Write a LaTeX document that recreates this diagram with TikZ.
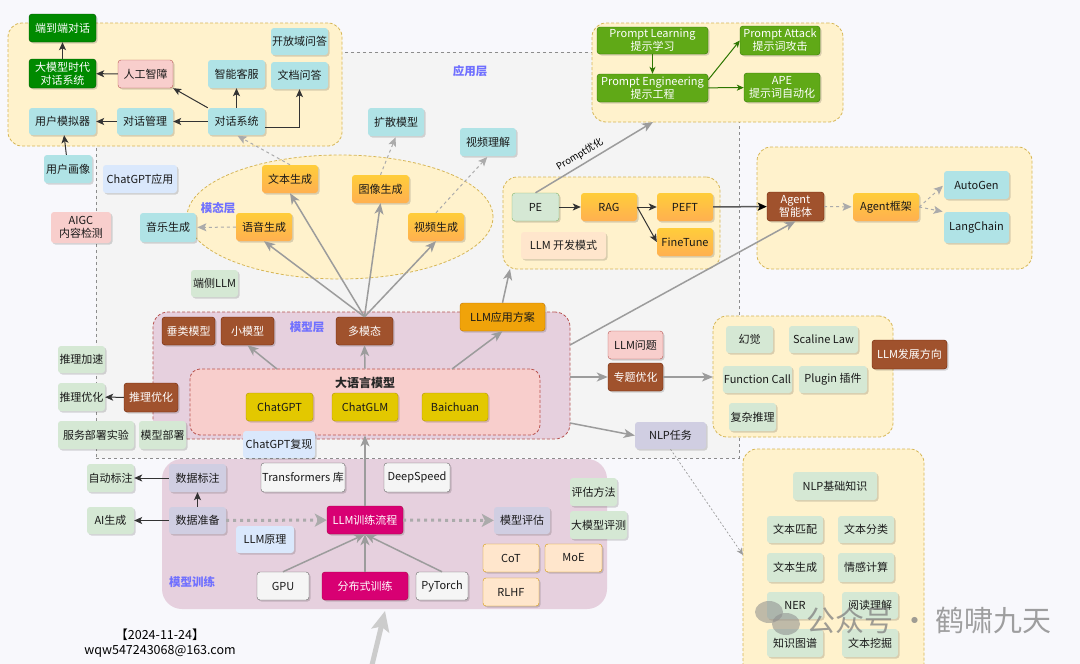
\documentclass[tikz,border=0pt]{standalone}
\usepackage{fontspec}
\setmainfont{Noto Sans CJK SC}
\usetikzlibrary{arrows.meta,shapes.geometric,shadows}
\definecolor{bg}{HTML}{F8F8FC}
\definecolor{appbg}{HTML}{F4F4F4}
\definecolor{ylw}{HTML}{FFF2CC}
\definecolor{ylwd}{HTML}{D6B656}
\definecolor{cyn}{HTML}{B0E3E6}
\definecolor{lgr}{HTML}{D5E8D4}
\definecolor{lgrd}{HTML}{82B366}
\definecolor{pnk}{HTML}{F8CECC}
\definecolor{pnkd}{HTML}{B85450}
\definecolor{brn}{HTML}{A0522D}
\definecolor{brnd}{HTML}{6D1F00}
\definecolor{dgr}{HTML}{008A00}
\definecolor{dgrd}{HTML}{005700}
\definecolor{pgr}{HTML}{60A917}
\definecolor{pgrd}{HTML}{2D7600}
\definecolor{orgt}{HTML}{FFCD3A}
\definecolor{orgb}{HTML}{FFB050}
\definecolor{gold}{HTML}{E3C800}
\definecolor{goldd}{HTML}{B09500}
\definecolor{lav}{HTML}{D0CEE2}
\definecolor{lblu}{HTML}{DAE8FC}
\definecolor{pch}{HTML}{FFE6CC}
\definecolor{pchd}{HTML}{D79B00}
\definecolor{wht}{HTML}{F5F5F5}
\definecolor{whtd}{HTML}{666666}
\definecolor{mag}{HTML}{D80073}
\definecolor{magd}{HTML}{A50040}
\definecolor{amb}{HTML}{F0A30A}
\definecolor{ambd}{HTML}{BD7000}
\definecolor{mlay}{HTML}{E6D0DE}
\definecolor{lbl}{HTML}{7070FF}
\definecolor{arr}{HTML}{9C9C9C}
\definecolor{dk}{HTML}{333333}
\newcommand\bx[7]{\node[#1, minimum width={(#5)-(#3)}, minimum height={(#6)-(#4)}] (#2) at ({((#3)+(#5))/2},{((#4)+(#6))/2}) {#7};}
\tikzset{
 nd/.style={rounded corners=3pt, align=center, inner sep=1pt, font=\fontsize{11}{13}\selectfont, text=black!90,
   drop shadow={shadow xshift=1.5pt, shadow yshift=-1.5pt, fill=black, opacity=0.15}},
 cy/.style={nd, fill=cyn},
 lg/.style={nd, fill=lgr},
 lgb/.style={nd, fill=lgr, draw=lgrd},
 pk/.style={nd, fill=pnk, draw=pnkd},
 pkn/.style={nd, fill=pnk},
 br/.style={nd, fill=brn, draw=brnd, text=white},
 dg/.style={nd, fill=dgr, draw=dgrd, text=white},
 pg/.style={nd, fill=pgr, draw=pgrd, text=white},
 og/.style={nd, top color=orgt, bottom color=orgb},
 gd/.style={nd, fill=gold, draw=goldd},
 lv/.style={nd, fill=lav},
 lb/.style={nd, fill=lblu},
 pc/.style={nd, fill=pch},
 pcd/.style={nd, fill=pch, draw=pchd},
 wh/.style={nd, fill=wht, draw=whtd},
 mg/.style={nd, fill=mag, draw=magd, text=white},
 am/.style={nd, fill=amb, draw=ambd},
 grp/.style={rounded corners=14pt, fill=ylw, draw=ylwd, dash pattern=on 3pt off 2pt, line width=0.8pt},
 lab/.style={text=lbl, font=\bfseries\fontsize{11.5}{13}\selectfont},
 bk/.style={draw=dk, line width=1pt, -{Stealth[length=8pt,width=7pt,inset=2pt]}},
 dkl/.style={draw=black!65, line width=1.5pt, -{Stealth[length=9pt,width=8pt,inset=2pt,color=black]}},
 gr/.style={draw=pgrd, line width=1pt, -{Stealth[length=7pt,width=6pt,inset=2pt]}},
 ga/.style={draw=arr, line width=1.5pt, -{Stealth[length=11pt,width=9pt,inset=3pt]}},
 gdsh/.style={draw=arr!85, line width=1pt, dash pattern=on 3pt off 3pt, -{Stealth[length=9pt,width=8pt,inset=2pt,sep]}},
 gdt/.style={draw=arr, line width=0.7pt, dash pattern=on 2pt off 2pt, -{Stealth[length=7pt,width=6pt,inset=2pt]}},
 gdot/.style={draw=arr!85, line width=3pt, dash pattern=on 3pt off 4pt, -{Stealth[length=12pt,width=13pt,inset=3pt]}},
 big/.style={draw=black!20, line width=5pt, -{Stealth[length=20pt,width=18pt,inset=4pt]}}
}
\begin{document}
\begin{tikzpicture}[x=1pt,y=-1pt]
\useasboundingbox (0,0) rectangle (1080,664);
\clip (0,0) rectangle (1080,664);
\fill[bg] (0,0) rectangle (1080,664);
% regions
\bx{fill=appbg, draw=black!45, dash pattern=on 3pt off 3pt, line width=0.8pt}{applayer}{96}{52}{739}{458}{}
\bx{grp}{g1}{8}{23}{342}{146}{}
\bx{grp}{g2}{592}{23}{843}{122}{}
\bx{grp}{g3}{503}{177}{720}{269}{}
\bx{grp}{g4}{757}{147}{1032}{269}{}
\bx{grp}{g5}{713}{316}{893}{437}{}
\bx{grp}{g6}{743}{449}{924}{700}{}
\node[ellipse, fill=ylw, draw=ylwd, dash pattern=on 3pt off 2pt, line width=0.8pt, minimum width=306, minimum height=124] (ell) at (340,217) {};
\bx{rounded corners=15pt, fill=mlay, draw=pnkd, dash pattern=on 3pt off 2pt, line width=0.8pt}{mlayer}{153}{312}{570}{439}{}
\bx{rounded corners=10pt, fill=pnk, draw=pnkd, dash pattern=on 3pt off 2pt, line width=0.8pt}{dyy}{190}{369}{540}{435}{}
\bx{rounded corners=20pt, fill=mlay}{train}{162}{459}{607}{609}{}
% labels
\node[lab] (l1) at (470,71) {应用层};
\node[lab] (l2) at (218,208) {模态层};
\node[lab] (l3) at (307,327) {模型层};
\node[lab] (l4) at (192,582) {模型训练};
\node[font=\bfseries\fontsize{12}{14}\selectfont, text=black!85] (l5) at (365,383) {大语言模型};
% top-left
\bx{dg}{e2e}{29}{14}{96}{42}{端到端对话}
\bx{dg}{dmx}{29}{59}{96}{88}{大模型时代\\对话系统}
\bx{pk}{rgzz}{118}{60}{173}{88}{人工智障}
\bx{cy}{yhmn}{29}{108}{96}{135}{用户模拟器}
\bx{cy}{dhgl}{117}{108}{173}{135}{对话管理}
\bx{cy}{dhxt}{208}{108}{265}{135}{对话系统}
\bx{cy}{znkf}{208}{60}{265}{88}{智能客服}
\bx{cy}{kfy}{271}{28}{328}{55}{开放域问答}
\bx{cy}{wdwd}{271}{62}{328}{89}{文档问答}
\bx{cy}{yhhx}{44}{155}{92}{183}{用户画像}
\bx{lb}{gptyy}{103}{165}{177}{193}{ChatGPT应用}
% modal layer
\bx{og}{wbsc}{262}{165}{318}{193}{文本生成}
\bx{og}{txsc}{352}{175}{409}{203}{图像生成}
\bx{og}{yysc}{236}{213}{292}{241}{语音生成}
\bx{og}{spsc}{408}{213}{464}{241}{视频生成}
\bx{cy}{yysc2}{140}{213}{196}{242}{音乐生成}
\bx{cy}{ksmx}{368}{108}{424}{136}{扩散模型}
\bx{cy}{spjl}{460}{128}{516}{156}{视频理解}
\bx{pkn}{aigc}{51}{212}{111}{243}{AIGC\\内容检测}
\bx{lg}{dcllm}{191}{270}{238}{297}{端侧LLM}
% model layer
\bx{br}{clmx}{162}{317}{215}{345}{垂类模型}
\bx{br}{xmx}{221}{317}{274}{345}{小模型}
\bx{br}{dmt}{336}{317}{393}{345}{多模态}
\bx{am}{yyfa}{460}{303}{545}{331}{LLM应用方案}
\bx{gd}{cgpt}{246}{393}{313}{421}{ChatGPT}
\bx{gd}{cglm}{332}{393}{398}{421}{ChatGLM}
\bx{gd}{bc}{422}{393}{488}{421}{Baichuan}
\bx{lb}{gptfx}{243}{431}{315}{458}{ChatGPT复现}
% dev mode
\bx{lgb}{pe}{512}{193}{559}{221}{PE}
\bx{og}{rag}{581}{193}{637}{221}{RAG}
\bx{og}{peft}{657}{193}{713}{221}{PEFT}
\bx{og}{ft}{657}{228}{713}{256}{FineTune}
\bx{pc}{kfms}{521}{232}{606}{259}{LLM 开发模式}
% prompt
\bx{pg}{pl}{597}{27}{708}{54}{Prompt Learning\\提示学习}
\bx{pg}{pen}{597}{74}{708}{102}{Prompt Engineering\\提示工程}
\bx{pg}{pa}{740}{26}{820}{55}{Prompt Attack\\提示词攻击}
\bx{pg}{ape}{744}{73}{820}{102}{APE\\提示词自动化}
% agent
\bx{br}{agent}{767}{192}{824}{221}{Agent\\智能体}
\bx{og}{agfw}{853}{193}{919}{221}{Agent框架}
\bx{cy}{autogen}{944}{171}{1009}{199}{AutoGen}
\bx{cy}{langchain}{944}{212}{1009}{243}{LangChain}
% issues
\bx{pk}{llmwt}{608}{331}{663}{359}{LLM问题}
\bx{br}{ztyh}{608}{363}{663}{391}{专题优化}
\bx{lv}{nlprw}{635}{422}{706}{449}{NLP任务}
\bx{lg}{hj}{726}{326}{773}{353}{幻觉}
\bx{lg}{scl}{789}{326}{858}{353}{Scaline Law}
\bx{lg}{fc}{723}{366}{792}{393}{Function Call}
\bx{lg}{plg}{799}{366}{867}{393}{Plugin 插件}
\bx{lg}{fztl}{729}{403}{776}{431}{复杂推理}
\bx{br}{fzfx}{872}{340}{947}{369}{LLM发展方向}
% nlp
\bx{lg}{nlpjc}{793}{472}{877}{500}{NLP基础知识}
\bx{lg}{wbpp}{767}{516}{823}{543}{文本匹配}
\bx{lg}{wbfl}{838}{516}{894}{543}{文本分类}
\bx{lg}{wbsc2}{767}{553}{823}{582}{文本生成}
\bx{lg}{qgjs}{838}{553}{894}{582}{情感计算}
\bx{lg}{ner}{767}{592}{823}{619}{NER}
\bx{lg}{ydlj}{842}{592}{898}{619}{阅读理解}
\bx{lg}{zstp}{767}{629}{823}{657}{知识图谱}
\bx{lg}{wbwj}{842}{629}{898}{657}{文本挖掘}
% inference
\bx{lg}{tljs}{58}{346}{105}{373}{推理加速}
\bx{lg}{tlyh}{58}{383}{105}{411}{推理优化}
\bx{br}{tlyh2}{124}{383}{178}{412}{推理优化}
\bx{lg}{fwbs}{58}{421}{134}{449}{服务部署实验}
\bx{lg}{mxbs}{139}{421}{186}{449}{模型部署}
% training
\bx{lv}{sjbz}{169}{464}{226}{492}{数据标注}
\bx{lv}{sjzb}{169}{507}{226}{534}{数据准备}
\bx{lg}{zdbz}{87}{464}{134}{492}{自动标注}
\bx{lg}{aisc}{87}{507}{134}{534}{AI生成}
\bx{lb}{llmyl}{236}{526}{294}{553}{LLM原理}
\bx{wh}{tfk}{261}{463}{345}{492}{Transformers 库}
\bx{wh}{ds}{384}{463}{450}{492}{DeepSpeed}
\bx{mg}{xllc}{327}{506}{403}{534}{LLM训练流程}
\bx{lv}{mxpg}{494}{507}{550}{534}{模型评估}
\bx{lg}{pgff}{570}{478}{617}{506}{评估方法}
\bx{lg}{dmxpc}{570}{511}{627}{539}{大模型评测}
\bx{pcd}{cot}{483}{544}{539}{572}{CoT}
\bx{pcd}{moe}{545}{544}{602}{572}{MoE}
\bx{pcd}{rlhf}{483}{578}{539}{606}{RLHF}
\bx{wh}{gpu}{257}{572}{309}{600}{GPU}
\bx{mg}{fbs}{322}{572}{408}{600}{分布式训练}
\bx{wh}{pyt}{416}{572}{468}{600}{PyTorch}
% texts
\node[font=\fontsize{12.5}{14}\selectfont] (date) at (160,635) {【2024-11-24】};
\node[font=\fontsize{12.5}{14}\selectfont] (mail) at (160,651) {wqw547243068@163.com};
\node[font=\fontsize{13}{15}\selectfont] (t1) at (447,673) {NLP模型};
\node[font=\fontsize{13}{15}\selectfont] (t2) at (701,673) {深度学习};
\node[font=\fontsize{13}{15}\selectfont] (t3) at (995,673) {行业知识};
% coordinates
\coordinate (c1) at (277,369);
\coordinate (c2) at (452,369);
\coordinate (c3) at (510,269);
\coordinate (c4) at (653,122);
\coordinate (c5) at (570,345);
\coordinate (c6) at (570,377);
\coordinate (c7) at (713,377);
\coordinate (c8) at (570,423);
\coordinate (c9) at (743,555);
\coordinate (b1) at (366,690);
\coordinate (b2) at (385,611);
% edges top-left
\draw[bk] (dmx) -- (e2e);
\draw[bk] (rgzz) -- (dmx);
\draw[bk] (dhgl) -- (yhmn);
\draw[bk] (dhxt) -- (dhgl);
\draw[bk] (dhxt.north west) -- (rgzz.south east);
\draw[bk] (dhxt) -- (znkf);
\draw[bk] ([yshift=-6pt]dhxt.east) -| (wdwd.south);
\draw[bk] (yhhx) -- (yhmn);
% dashed
\draw[gdsh] (wbsc.north) -- (dhxt.south);
\draw[gdsh] (txsc.north) -- (ksmx.south);
\draw[gdsh] (spsc.north) -- (spjl.south);
\draw[gdsh] (yysc) -- (yysc2);
% multimodal
\draw[ga] (dmt.north) -- (yysc.south);
\draw[ga] (dmt.north) -- (wbsc.south);
\draw[ga] (dmt.north) -- (txsc.south);
\draw[ga] (dmt.north) -- (spsc.south);
\draw[ga] (c1) -- (xmx.south);
\draw[ga] (dyy.north) -- (dmt.south);
\draw[ga] (c2) -- (yyfa.south);
\draw[ga] (yyfa.north) -- (c3);
% dev
\draw[bk] (pe) -- (rag);
\draw[bk] (rag) -- (peft);
\draw[bk] (rag.east) -- (ft.west);
\draw[dkl] (peft) -- (agent);
\draw[ga] (pe.north) -- node[pos=0.42, sloped, above=3pt, inner sep=1pt, font=\fontsize{9.5}{11}\selectfont] (lbp) {Prompt优化} (c4);
\draw[gr] (pl) -- (pen);
\draw[gr] ([yshift=-6pt]pen.north east) -- (pa.west);
\draw[gr] (pen) -- (ape);
\draw[gdsh] (agent) -- (agfw);
\draw[gdsh] (agfw.east) -- (autogen.west);
\draw[gdsh] (agfw.east) -- (langchain.north west);
\draw[ga] (c5) -- (agent.south);
\draw[ga] (c6) -- (ztyh.west);
\draw[ga] (ztyh.east) -- (c7);
\draw[ga] (c8) -- (nlprw.west);
\draw[gdt] (nlprw.south) -- (c9);
% inference
\draw[bk] (tlyh2) -- (tlyh);
% training
\draw[bk] (sjzb) -- (sjbz);
\draw[bk] (sjbz) -- (zdbz);
\draw[bk] (sjzb) -- (aisc);
\draw[gdot] (sjzb) -- (xllc);
\draw[gdot] (xllc) -- (mxpg);
\draw[ga] (gpu.north) -- (xllc.south);
\draw[ga] (fbs) -- (xllc);
\draw[ga] (pyt.north) -- (xllc.south);
\draw[ga] (xllc) -- (dyy.south);
\draw[big] (b1) -- (b2);
% watermark
\fill[black!45, opacity=0.55] (769,612) ellipse [x radius=14pt, y radius=11pt];
\fill[black!45, opacity=0.55] (786,624) ellipse [x radius=14pt, y radius=11pt];
\node[text=black!50, opacity=0.75, anchor=west, font=\fontsize{29}{31}\selectfont] (wm) at (803,620) {公众号 · 鹤啸九天};
\end{tikzpicture}
\end{document}
